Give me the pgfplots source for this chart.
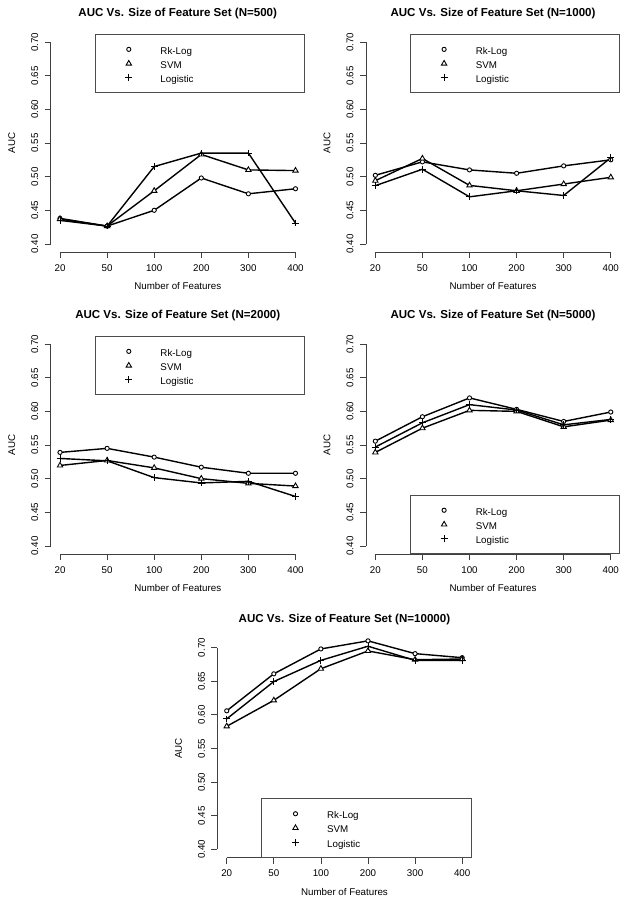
\documentclass[border=0pt]{standalone}
\usepackage{fontspec}
\setmainfont{Liberation Sans}
\usepackage{pgfplots}
\pgfplotsset{compat=1.18}

\newcommand{\txt}{\fontsize{9.8}{11}\selectfont}
\tikzset{rax/.style={black!75, line width=0.8bp}}

\pgfplotsset{
  rpanel/.style={
    scale only axis,
    width=254.3bp, height=218bp,
    xmin=0.8, xmax=6.2, ymin=0.388, ymax=0.712,
    xtick={1,2,3,4,5,6}, xticklabels={20,50,100,200,300,400},
    ytick={0.40,0.45,0.50,0.55,0.60,0.65,0.70},
    yticklabels={0.40,0.45,0.50,0.55,0.60,0.65,0.70},
    axis line style={draw=none},
    xtick pos=left, ytick pos=left,
    tick align=outside,
    major tick length=6bp,
    every tick/.style={black!75, line width=0.8bp},
    xticklabel style={font=\txt, anchor=base, yshift=-13.3bp, inner sep=0pt},
    yticklabel style={font=\txt, xshift=-6.5bp, rotate=90, anchor=base, inner sep=0pt},
    xlabel={Number of Features}, ylabel={AUC},
    xlabel style={font=\txt, at={(axis description cs:0.5,0)}, anchor=base, yshift=-37.5bp, inner sep=0pt},
    ylabel style={font=\txt, at={([xshift=-35.5bp]axis description cs:0,0.5)}, rotate=0, anchor=base, inner sep=0pt},
    title style={font=\bfseries\fontsize{11.6}{13}\selectfont, at={([yshift=11.5bp]axis description cs:0.5,1)}, anchor=base, inner sep=0pt},
    clip=false,
    legend style={draw=black!70, line width=0.8bp, fill=white, inner xsep=0pt, inner ysep=7.85bp, row sep=0pt,
      nodes={inner sep=0pt, text width=144bp, align=left, font=\txt, text height=5bp, text depth=0bp, yshift=-2.5bp}},
    legend image code/.code={\draw[#1, only marks] plot coordinates {(0bp,0bp)}; \path (-33bp,-6.4bp) (31bp,6.4bp);},
    cycle list={
      {black, line width=1.4bp, mark=*, mark size=2.1bp, mark options={solid, fill=white, line width=0.9bp}},
      {black, line width=1.4bp, mark=triangle*, mark size=3.1bp, mark options={solid, fill=white, line width=0.9bp}},
      {black, line width=1.4bp, mark=+, mark size=3.4bp, mark options={solid, line width=0.9bp}}
    },
  },
  legtop/.style={legend style={at={(rel axis cs:1,1)}, anchor=north east}},
  legbot/.style={legend style={at={(rel axis cs:1,0)}, anchor=south east}},
}

\newcommand{\raxes}{%
  \draw[rax] (axis cs:1,0.388) -- (axis cs:6,0.388);
  \draw[rax] (axis cs:0.8,0.40) -- (axis cs:0.8,0.70);
}

\begin{document}
\begin{tikzpicture}
\useasboundingbox (0,0) rectangle (629bp,-901bp);

% N=500
\begin{axis}[rpanel, legtop, at={(50.6bp,-252bp)}, anchor=south west,
  title={AUC Vs. Size of Feature Set (N=500)}]
\addplot coordinates {(1,0.438) (2,0.4265) (3,0.450) (4,0.498) (5,0.4745) (6,0.482)};
\addplot coordinates {(1,0.437) (2,0.4265) (3,0.479) (4,0.533) (5,0.510) (6,0.509)};
\addplot coordinates {(1,0.435) (2,0.4265) (3,0.515) (4,0.535) (5,0.535) (6,0.431)};
\legend{Rk-Log,SVM,Logistic}
\raxes
\end{axis}

% N=1000
\begin{axis}[rpanel, legtop, at={(365.9bp,-252bp)}, anchor=south west,
  title={AUC Vs. Size of Feature Set (N=1000)}]
\addplot coordinates {(1,0.502) (2,0.522) (3,0.510) (4,0.505) (5,0.516) (6,0.525)};
\addplot coordinates {(1,0.494) (2,0.527) (3,0.487) (4,0.479) (5,0.489) (6,0.499)};
\addplot coordinates {(1,0.4866) (2,0.511) (3,0.470) (4,0.479) (5,0.472) (6,0.528)};
\legend{Rk-Log,SVM,Logistic}
\raxes
\end{axis}

% N=2000
\begin{axis}[rpanel, legtop, at={(50.6bp,-554bp)}, anchor=south west,
  title={AUC Vs. Size of Feature Set (N=2000)}]
\addplot coordinates {(1,0.539) (2,0.545) (3,0.532) (4,0.517) (5,0.508) (6,0.508)};
\addplot coordinates {(1,0.5196) (2,0.527) (3,0.516) (4,0.500) (5,0.493) (6,0.489)};
\addplot coordinates {(1,0.530) (2,0.5265) (3,0.5015) (4,0.4936) (5,0.496) (6,0.4735)};
\legend{Rk-Log,SVM,Logistic}
\raxes
\end{axis}

% N=5000
\begin{axis}[rpanel, legbot, at={(365.9bp,-554bp)}, anchor=south west,
  title={AUC Vs. Size of Feature Set (N=5000)}]
\addplot coordinates {(1,0.5557) (2,0.592) (3,0.620) (4,0.603) (5,0.585) (6,0.599)};
\addplot coordinates {(1,0.539) (2,0.575) (3,0.6015) (4,0.600) (5,0.577) (6,0.587)};
\addplot coordinates {(1,0.547) (2,0.583) (3,0.610) (4,0.602) (5,0.580) (6,0.588)};
\legend{Rk-Log,SVM,Logistic}
\raxes
\end{axis}

% N=10000
\begin{axis}[rpanel, legbot, at={(217.3bp,-857.5bp)}, anchor=south west,
  title={AUC Vs. Size of Feature Set (N=10000)}]
\addplot coordinates {(1,0.606) (2,0.661) (3,0.698) (4,0.710) (5,0.691) (6,0.685)};
\addplot coordinates {(1,0.583) (2,0.6216) (3,0.6686) (4,0.695) (5,0.682) (6,0.683)};
\addplot coordinates {(1,0.594) (2,0.6495) (3,0.681) (4,0.702) (5,0.681) (6,0.681)};
\legend{Rk-Log,SVM,Logistic}
\raxes
\end{axis}
\end{tikzpicture}
\end{document}
